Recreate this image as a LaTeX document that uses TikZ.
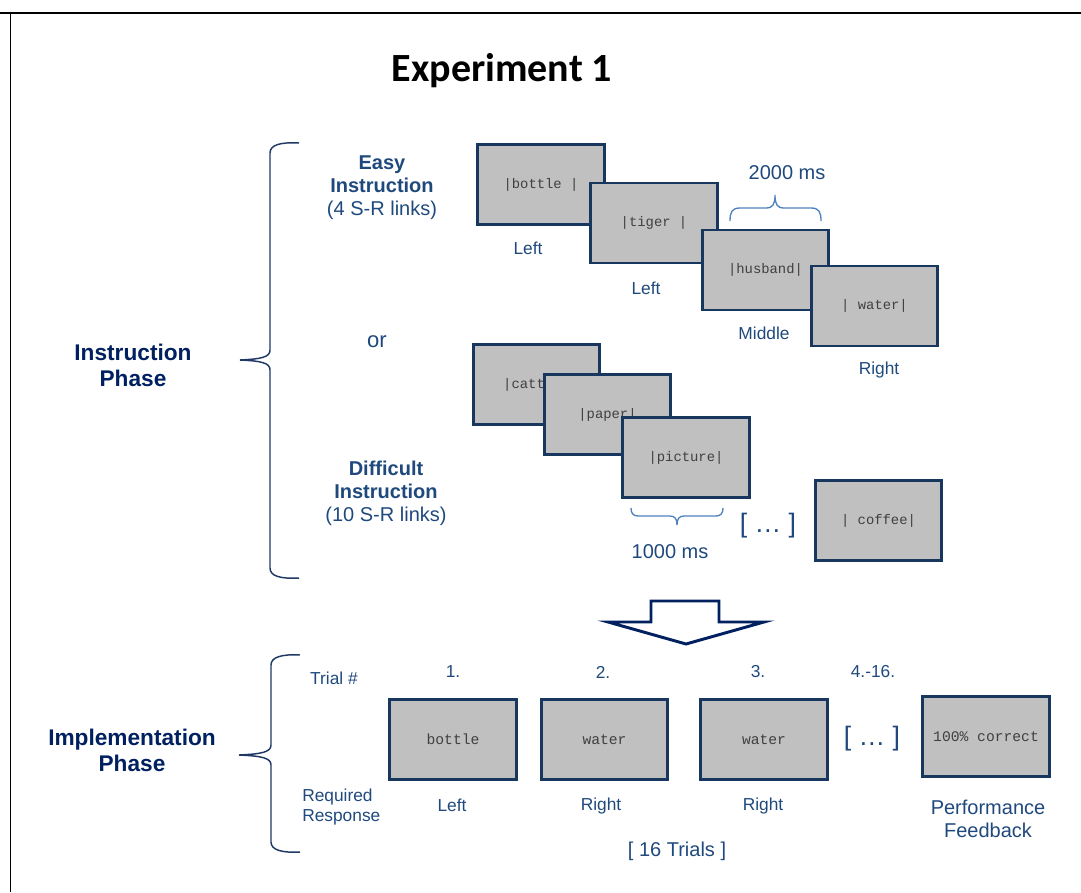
\documentclass[tikz,border=0pt]{standalone}
\usepackage{fontspec}
\setmainfont{Liberation Sans}
\setmonofont{Liberation Mono}
\newfontfamily\titlefont{Carlito}
\usepackage{tikz}
\definecolor{screenline}{HTML}{17375E}
\definecolor{screengray}{HTML}{C0C0C0}
\definecolor{respblue}{HTML}{1F497D}
\definecolor{phaseblue}{HTML}{002060}
\definecolor{bracedark}{HTML}{1F3864}
\definecolor{bracelight}{HTML}{4F81BD}
\definecolor{wordgray}{HTML}{404040}

\begin{document}
\begin{tikzpicture}
[x=0.75pt,y=-0.75pt]
\tikzstyle{word screen}=[rectangle,draw=screenline,line width=2.2pt,fill=screengray,minimum width=95pt,minimum height=60pt,inner sep=0,text=wordgray,font=\ttfamily\fontsize{10.4}{12}\selectfont]
\tikzstyle{resp text}=[text=respblue,inner sep=0,font=\fontsize{13}{15}\selectfont]
\tikzstyle{big text}=[text=respblue,inner sep=0,align=center,font=\fontsize{15}{17.25}\selectfont]
\tikzstyle{dots text}=[text=respblue,inner sep=0,font=\fontsize{20}{22}\selectfont]
\tikzstyle{phase text}=[text=phaseblue,inner sep=0,align=center,font=\bfseries\fontsize{17}{19.5}\selectfont]
\tikzstyle{phase brace}=[draw=bracedark,line width=1.1pt]
\tikzstyle{time brace}=[draw=bracelight,line width=1pt]

\useasboundingbox (0,0) rectangle (1081,892);
\draw[line width=0.9pt] (0,13) -- (1081,13) (10.5,13) -- (10.5,892);

\node(title)[inner sep=0,font=\titlefont\bfseries\fontsize{30}{34}\selectfont]at(502,71){Experiment 1};

% instruction phase
\node(instr)[phase text]at(133,365){Instruction\\Phase};
\draw[phase brace] (299,143) .. controls (280,142) and (270,145) .. (270,153) -- (270,350)
  .. controls (270,357) and (262,359) .. (240,360) .. controls (262,361) and (270,363) .. (270,370)
  -- (270,568) .. controls (270,576) and (280,579) .. (299,578);

\node(easy)[big text]at(382,188){\textbf{Easy}\\\textbf{Instruction}\\(4 S-R links)};
\node(or)[text=respblue,inner sep=0,font=\fontsize{16.5}{18}\selectfont]at(377,342){or};
\node(hard)[big text]at(386,493){\textbf{Difficult}\\\textbf{Instruction}\\(10 S-R links)};

\node(easy1)[word screen]at(541,184.5){|bottle |};
\node(easy2)[word screen]at(654,223){|tiger |};
\node(easy3)[word screen]at(765.5,270){|husband|};
\node(easy4)[word screen]at(874.5,306){| water|};
\node[resp text]at(528,248){Left};
\node[resp text]at(646,288){Left};
\node[resp text]at(764,333){Middle};
\node[resp text]at(879,370){Right};

\draw[time brace] (730,221) .. controls (730,212) and (732,208) .. (740,208) -- (766,208)
  .. controls (773,208) and (775,204) .. (775,195) .. controls (775,204) and (777,208) .. (784,208)
  -- (811,208) .. controls (819,208) and (821,212) .. (821,221);
\node(t2000)[big text]at(787,173){2000 ms};

\node(hard1)[word screen]at(536.5,384.5){|cattle|};
\node(hard2)[word screen]at(607.5,414.5){|paper|};
\node(hard3)[word screen]at(686,457.5){|picture|};
\node(hard4)[word screen]at(878.5,520.5){| coffee|};
\node(hdots)[dots text]at(768,526){[ … ]};

\draw[time brace] (631,508) .. controls (631,513) and (633,516) .. (638,516) -- (670,516)
  .. controls (675,516) and (677,519) .. (677,525) .. controls (677,519) and (679,516) .. (684,516)
  -- (716,516) .. controls (721,516) and (723,513) .. (723,508);
\node(t1000)[big text]at(670,552){1000 ms};

% arrow
\draw[draw=phaseblue,line width=2.2pt,fill=white,line join=miter]
  (651,601) -- (719,601) -- (719,622) -- (764,622) -- (686,644) -- (608,622) -- (651,622) -- cycle;

% implementation phase
\node(impl)[phase text]at(132,750){Implementation\\Phase};
\draw[phase brace] (300,655) .. controls (282,654) and (271,657) .. (271,665) -- (271,745)
  .. controls (271,752) and (262,754) .. (239,755) .. controls (262,756) and (271,758) .. (271,765)
  -- (271,842) .. controls (271,850) and (282,853) .. (300,852);

\node(trial)[resp text]at(334,678){Trial \#};
\node(req)[resp text,anchor=west,align=left,font=\fontsize{13}{15}\selectfont]at(302,807){Required\\Response};

\node(imp1)[word screen,font=\ttfamily\fontsize{11}{13}\selectfont]at(453,739.5){bottle};
\node(imp2)[word screen,font=\ttfamily\fontsize{11}{13}\selectfont]at(604.5,739.5){water};
\node(imp3)[word screen,font=\ttfamily\fontsize{11}{13}\selectfont]at(764,739.5){water};
\node(fb)[word screen,font=\ttfamily\fontsize{11}{13}\selectfont]at(986,736.5){100\% correct};
\node(idots)[dots text]at(872,739){[ … ]};

\node[resp text]at(453,672){1.};
\node[resp text]at(603,672){2.};
\node[resp text]at(758,672){3.};
\node[resp text]at(873,672){4.-16.};

\node[resp text]at(452,805){Left};
\node[resp text]at(601,806){Right};
\node[resp text]at(763,806){Right};
\node[big text]at(988,819){Performance\\Feedback};
\node(trials)[big text]at(677,851){[ 16 Trials ]};
\end{tikzpicture}
\end{document}
